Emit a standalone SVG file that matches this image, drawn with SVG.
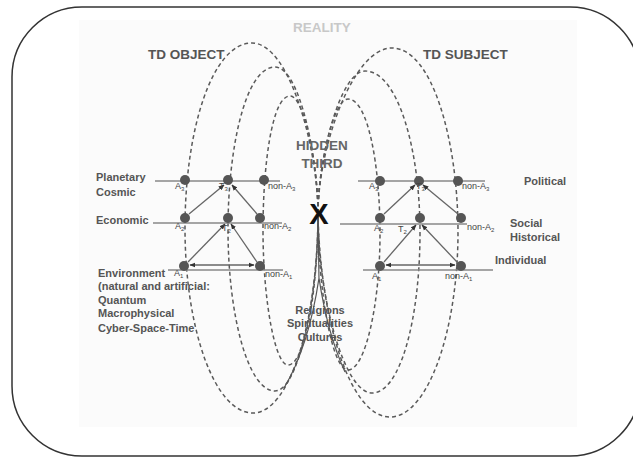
<svg xmlns="http://www.w3.org/2000/svg" width="633" height="457" viewBox="0 0 633 457">
  <defs>
    <marker id="ah" viewBox="0 0 10 10" refX="9" refY="5" markerWidth="6" markerHeight="6" orient="auto-start-reverse" markerUnits="userSpaceOnUse">
      <path d="M0,1 L10,5 L0,9 Z" fill="#333"/>
    </marker>
    <style>
      text { font-family: "Liberation Sans", Arial, sans-serif; fill: #555; }
      .big { font-size: 13.5px; font-weight: bold; }
      .lbl { font-size: 11px; font-weight: bold; }
      .sm { font-size: 9px; fill: #444; }
      .sub { font-size: 6px; }
      .loop { fill: none; stroke: #5a5a5a; stroke-width: 1.5; stroke-dasharray: 4 3; }
      .row { stroke: #888; stroke-width: 1.5; }
      .node { fill: #555; }
      .arr { stroke: #666; stroke-width: 1.3; fill: none; }
    </style>
  </defs>

  <!-- outer frame and panel -->
  <rect x="12" y="7" width="628" height="449" rx="70" ry="70" fill="#fff" stroke="#333" stroke-width="1.5"/>
  <rect x="79" y="20" width="498" height="407" fill="#fbfbfb"/>

  <!-- level loops through the hidden third -->
  <g id="loops">
    <path class="loop" d="M318,213 C318,150 290,43 252,43 C212,43 185,130 185,228 C185,330 215,413 253,413 C290,413 318,320 318,213 Z"/>
    <path class="loop" d="M318,213 C318,160 300,67 275,67 C245,67 228,150 228,229 C228,315 248,391 275,391 C298,391 318,300 318,213 Z"/>
    <path class="loop" d="M318,213 C318,170 305,96 290,96 C272,96 263,165 263,230 C263,300 275,365 288,365 C305,365 318,290 318,213 Z"/>
    <path class="loop" d="M318,213 C318,150 352,48 392,48 C432,48 458,140 458,232 C458,330 428,417 390,417 C350,417 320,320 318,213 Z"/>
    <path class="loop" d="M318,213 C318,160 340,71 365,71 C398,71 420,150 420,232 C420,320 400,393 372,393 C345,393 318,300 318,213 Z"/>
    <path class="loop" d="M318,213 C318,170 333,99 348,99 C368,99 380,165 380,234 C380,305 365,370 348,370 C332,370 318,290 318,213 Z"/>
    <path d="M318,213 L319,280 M319,278 C313,318 302,358 284,388 M319,278 C325,318 334,348 345,372" fill="none" stroke="#555" stroke-width="1.2"/>
  </g>

  <!-- level lines -->
  <g id="levels">
    <line class="row" x1="155" y1="181" x2="280" y2="181"/>
    <line class="row" x1="153" y1="223" x2="282" y2="223"/>
    <line class="row" x1="168" y1="270" x2="283" y2="270"/>
    <line class="row" x1="358" y1="181" x2="485" y2="181"/>
    <line class="row" x1="340" y1="224" x2="467" y2="224"/>
    <line class="row" x1="363" y1="270" x2="493" y2="270"/>
  </g>

  <!-- connectors -->
  <g id="connectors">
    <line class="arr" x1="189" y1="214" x2="224" y2="185" marker-end="url(#ah)"/>
    <line class="arr" x1="257" y1="214" x2="232" y2="185" marker-end="url(#ah)"/>
    <line class="arr" x1="188" y1="262" x2="225" y2="224" marker-end="url(#ah)"/>
    <line class="arr" x1="257" y1="262" x2="231" y2="224" marker-end="url(#ah)"/>
    <line class="arr" x1="190" y1="265" x2="254" y2="265" marker-start="url(#ah)" marker-end="url(#ah)"/>
    <line class="arr" x1="384" y1="214" x2="415" y2="185" marker-end="url(#ah)"/>
    <line class="arr" x1="458" y1="214" x2="423" y2="185" marker-end="url(#ah)"/>
    <line class="arr" x1="384" y1="262" x2="416" y2="225" marker-end="url(#ah)"/>
    <line class="arr" x1="457" y1="262" x2="422" y2="225" marker-end="url(#ah)"/>
    <line class="arr" x1="386" y1="265" x2="455" y2="265" marker-start="url(#ah)" marker-end="url(#ah)"/>
  </g>

  <!-- TD object levels -->
  <g id="object-level-3">
    <circle class="node" cx="185" cy="180" r="5"/>
    <circle class="node" cx="228" cy="180" r="5"/>
    <circle class="node" cx="264" cy="180" r="5"/>
    <text class="sm" x="175" y="189">A<tspan class="sub" dy="2">3</tspan></text>
    <text class="sm" x="219" y="189">T<tspan class="sub" dy="2">3</tspan></text>
    <text class="sm" x="268" y="189">non-A<tspan class="sub" dy="2">3</tspan></text>
  </g>
  <g id="object-level-2">
    <circle class="node" cx="185" cy="218" r="5"/>
    <circle class="node" cx="228" cy="218" r="5"/>
    <circle class="node" cx="260" cy="218" r="5"/>
    <text class="sm" x="175" y="229">A<tspan class="sub" dy="2">2</tspan></text>
    <text class="sm" x="222" y="231">T<tspan class="sub" dy="2">2</tspan></text>
    <text class="sm" x="264" y="229">non-A<tspan class="sub" dy="2">2</tspan></text>
  </g>
  <g id="object-level-1">
    <circle class="node" cx="184" cy="266" r="5"/>
    <circle class="node" cx="260" cy="266" r="5"/>
    <text class="sm" x="174" y="276">A<tspan class="sub" dy="2">1</tspan></text>
    <text class="sm" x="265" y="277">non-A<tspan class="sub" dy="2">1</tspan></text>
  </g>

  <!-- TD subject levels -->
  <g id="subject-level-3">
    <circle class="node" cx="380" cy="181" r="5"/>
    <circle class="node" cx="419" cy="181" r="5"/>
    <circle class="node" cx="458" cy="181" r="5"/>
    <text class="sm" x="369" y="189">A<tspan class="sub" dy="2">3</tspan></text>
    <text class="sm" x="416" y="189">T<tspan class="sub" dy="2">3</tspan></text>
    <text class="sm" x="462" y="189">non-A<tspan class="sub" dy="2">3</tspan></text>
  </g>
  <g id="subject-level-2">
    <circle class="node" cx="380" cy="218" r="5"/>
    <circle class="node" cx="420" cy="218" r="5"/>
    <circle class="node" cx="461" cy="218" r="5"/>
    <text class="sm" x="374" y="231">A<tspan class="sub" dy="2">2</tspan></text>
    <text class="sm" x="398" y="232">T<tspan class="sub" dy="2">2</tspan></text>
    <text class="sm" x="467" y="230">non-A<tspan class="sub" dy="2">2</tspan></text>
  </g>
  <g id="subject-level-1">
    <circle class="node" cx="380" cy="266" r="5"/>
    <circle class="node" cx="461" cy="266" r="5"/>
    <text class="sm" x="372" y="279">A<tspan class="sub" dy="2">1</tspan></text>
    <text class="sm" x="445" y="279">non-A<tspan class="sub" dy="2">1</tspan></text>
  </g>

  <!-- headings -->
  <g id="headings">
    <text class="big" x="322" y="32" text-anchor="middle" style="fill:#c8c8c8">REALITY</text>
    <text class="big" x="148" y="59">TD OBJECT</text>
    <text class="big" x="423" y="59">TD SUBJECT</text>
  </g>

  <g id="hidden-third">
    <text class="big" x="322" y="150" text-anchor="middle" style="fill:#666">HIDDEN</text>
    <text class="big" x="322" y="168" text-anchor="middle" style="fill:#666">THIRD</text>
    <text x="319" y="224" text-anchor="middle" style="font-size:29px;font-weight:bold;fill:#111">X</text>
  </g>

  <g id="object-labels">
    <text class="lbl" x="96" y="181">Planetary</text>
    <text class="lbl" x="96" y="196">Cosmic</text>
    <text class="lbl" x="96" y="224">Economic</text>
    <text class="lbl" x="98" y="277">Environment</text>
    <text class="lbl" x="98" y="290">(natural and artificial:</text>
    <text class="lbl" x="98" y="304">Quantum</text>
    <text class="lbl" x="98" y="317">Macrophysical</text>
    <text class="lbl" x="98" y="332">Cyber-Space-Time</text>
  </g>

  <g id="subject-labels">
    <text class="lbl" x="524" y="185">Political</text>
    <text class="lbl" x="510" y="227">Social</text>
    <text class="lbl" x="510" y="241">Historical</text>
    <text class="lbl" x="495" y="264">Individual</text>
  </g>

  <g id="culture-labels">
    <text class="lbl" x="320" y="314" text-anchor="middle">Religions</text>
    <text class="lbl" x="320" y="327" text-anchor="middle">Spiritualities</text>
    <text class="lbl" x="320" y="341" text-anchor="middle">Cultures</text>
  </g>
</svg>
